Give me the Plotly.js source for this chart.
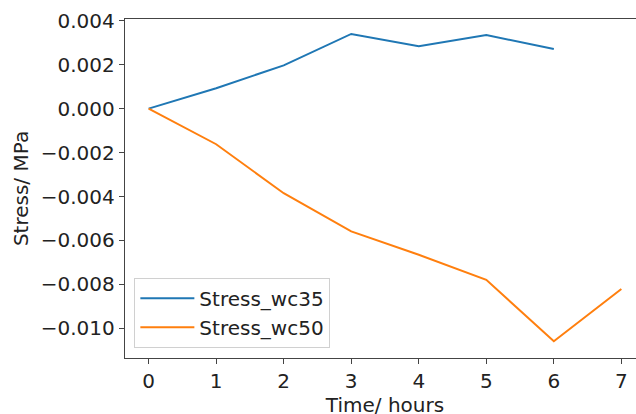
<!DOCTYPE html>
<html>
<head>
<meta charset="utf-8">
<script src="https://cdn.plot.ly/plotly-3.0.1.min.js"></script>
<style>
html, body { margin: 0; padding: 0; overflow: hidden; background: #fff; }
#chart { width: 660px; height: 424px; }
</style>
</head>
<body>
<div id="chart"></div>
<script>
const timeHours = [0, 1, 2, 3, 4, 5, 6, 7];
const timeWc35 = [0, 1, 2, 3, 4, 5, 6];
const stressWc35 = [0.0, 0.00093, 0.00197, 0.00340, 0.00284, 0.00335, 0.00271];
const stressWc50 = [0.0, -0.00162, -0.00385, -0.00559, -0.00665, -0.00779, -0.01059, -0.00821];
const seriesNames = ['Stress_wc35', 'Stress_wc50'];

const FONT = 'DejaVu Sans, sans-serif';
const FS = 20;
const traces = [
  { x: timeWc35, y: stressWc35, name: seriesNames[0], type: 'scatter', mode: 'lines',
    line: { color: '#1f77b4', width: 2 } },
  { x: timeHours, y: stressWc50, name: seriesNames[1], type: 'scatter', mode: 'lines',
    line: { color: '#ff7f0e', width: 2 } }
];

const layout = {
  width: 660, height: 424,
  margin: { l: 125, r: 15, t: 19, b: 66 },
  paper_bgcolor: '#fff', plot_bgcolor: '#fff',
  font: { family: FONT, size: FS, color: '#222' },
  showlegend: true,
  legend: {
    x: 0.018, y: 0.03, xanchor: 'left', yanchor: 'bottom',
    bgcolor: 'rgba(255,255,255,0.8)', bordercolor: '#d0d0d0', borderwidth: 1,
    font: { family: FONT, size: FS, color: '#222' },
    itemwidth: 54,
    tracegroupgap: 0
  },
  xaxis: {
    range: [-0.35, 7.35], tickmode: 'array', tickvals: timeHours,
    showgrid: false, zeroline: false,
    showline: true, mirror: true, linecolor: '#444', linewidth: 1.2,
    ticks: 'outside', ticklen: 5, tickcolor: '#444',
    tickfont: { family: FONT, size: FS, color: '#222' },
    title: { text: 'Time/ hours', font: { family: FONT, size: FS, color: '#222' }, standoff: 4 }
  },
  yaxis: {
    range: [-0.01135, 0.00408], tick0: 0, dtick: 0.002, tickformat: '.3f',
    showgrid: false, zeroline: false,
    showline: true, mirror: true, linecolor: '#444', linewidth: 1.2,
    ticks: 'outside', ticklen: 5, tickcolor: '#444',
    tickfont: { family: FONT, size: FS, color: '#222' },
    title: { text: 'Stress/ MPa', font: { family: FONT, size: FS, color: '#222' }, standoff: 6 }
  }
};

Plotly.newPlot('chart', traces, layout, { displayModeBar: false, staticPlot: true });
</script>
</body>
</html>
